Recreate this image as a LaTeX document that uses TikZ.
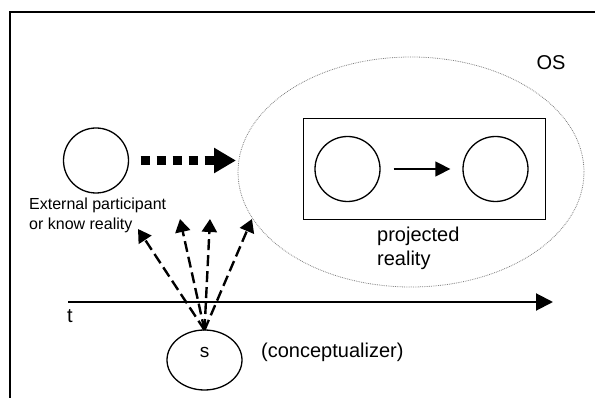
\documentclass[tikz,border=0pt]{standalone}
\usepackage{fontspec}
\setmainfont{Liberation Sans}
\usetikzlibrary{arrows.meta,shapes.geometric}
\tikzstyle{agent}=[circle,draw,line width=1.3pt,minimum size=65pt,inner sep=0pt]
\tikzstyle{subject}=[ellipse,draw,line width=1.3pt,minimum width=75pt,minimum height=60pt,inner sep=0pt,text height=10pt,text depth=14pt,font=\fontsize{19}{22}\selectfont]
\tikzstyle{onstage}=[ellipse,draw=gray,densely dotted,line width=0.8pt,minimum width=346pt,minimum height=230pt,inner sep=0pt]
\tikzstyle{projbox}=[rectangle,draw,line width=1.5pt,minimum width=242pt,minimum height=101pt,inner sep=0pt]
\tikzstyle{bigtext}=[inner sep=0pt,font=\fontsize{20}{24}\selectfont]
\tikzstyle{smalltext}=[inner sep=0pt,font=\fontsize{16}{20}\selectfont]
\tikzstyle{solidarrow} = [draw,line width=1.5pt,-{Triangle[length=15pt,width=15pt]},shorten <=13pt,shorten >=12pt]
\tikzstyle{bigdots} = [draw,line width=9pt,dash pattern=on 9pt off 7pt,-{Triangle[length=22pt,width=24pt]},shorten <=11.5pt,shorten >=3pt]
\tikzstyle{gaze} = [draw,line width=2.4pt,dash pattern=on 11pt off 5pt,-{Triangle[length=13pt,width=15pt]}]
\tikzstyle{timeline} = [draw,line width=2pt,-{Triangle[length=17pt,width=17pt]}]

\begin{document}
\begin{tikzpicture}[x=1pt,y=-1pt]
    \useasboundingbox (0,0) rectangle (595,398);
    % Draw the frame, only its top and left edge show
    \draw[line width=1.5pt] (595,12) -- (10,12) -- (10,398);
    % The onstage region with the projected reality in it
    \node[onstage] (OS) at (411,172) {};
    \node[bigtext] (OSlabel) at (551,62.5) {OS};
    \node[projbox] (proj) at (424.5,168.8) {};
    \node[agent] (pa) at (347.5,169) {};
    \node[agent] (pb) at (495.5,169) {};
    \draw[solidarrow] (pa) -- (pb);
    \node[bigtext,align=left,anchor=north west] (projlabel) at (377,227) {projected\\reality};
    % The external participant
    \node[agent] (ext) at (96,160.5) {};
    \coordinate (OSedge) at (239,160.5);
    \draw[bigdots] (ext) -- (OSedge);
    \node[smalltext,align=left,anchor=north west] (extlabel) at (29,198) {External participant\\or know reality};
    % Time axis
    \coordinate (t0) at (68,302);
    \coordinate (t1) at (553,302);
    \draw[timeline] (t0) -- (t1);
    \node[bigtext,anchor=base west] (tlabel) at (67,323) {t};
    % The conceptualizer and its lines of view
    \node[subject] (s) at (204.5,360) {s};
    \node[bigtext,anchor=base west] (slabel) at (261,358) {(conceptualizer)};
    \coordinate (sight) at (204.5,330);
    \foreach \x/\y/\v in {138/229/1, 180/219/2, 210/219/3, 252/219/4}
        \coordinate (view\v) at (\x,\y);
    \foreach \v in {1,2,3,4}
        \draw[gaze] (sight) -- (view\v);
\end{tikzpicture}
\end{document}
